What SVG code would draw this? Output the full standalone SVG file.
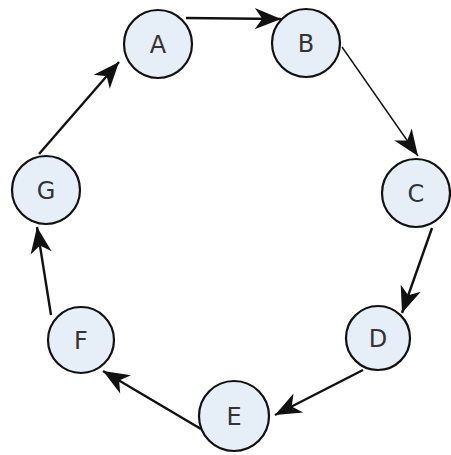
<svg xmlns="http://www.w3.org/2000/svg" width="451" height="455" viewBox="0 0 451 455">
<style>
.node circle{fill:#e6eef8;stroke:#111;stroke-width:2.2}
.node text{font-family:"DejaVu Sans","Liberation Sans",sans-serif;font-size:24px;fill:#333;text-anchor:middle}
.edge{stroke:#111;stroke-width:2.4;fill:none;marker-end:url(#ah)}
.thin{stroke-width:1.4}
</style>
<defs>
<marker id="ah" markerUnits="userSpaceOnUse" markerWidth="30" markerHeight="30" viewBox="-22 -10 24 20" refX="0" refY="0" orient="auto">
<path d="M0,0 L-21,-8.5 L-15,0 L-21,8.5 Z" fill="#111"/>
</marker>
</defs>
<rect width="451" height="455" fill="#fff"/>
<g id="connectors">
<line class="edge" x1="186" y1="18" x2="281" y2="19"/>
<line class="edge thin" x1="342" y1="47" x2="418" y2="156"/>
<line class="edge" x1="432" y1="228" x2="402" y2="313"/>
<line class="edge" x1="363" y1="370" x2="275" y2="415"/>
<line class="edge" x1="201" y1="429" x2="103" y2="371"/>
<line class="edge" x1="51" y1="315" x2="37" y2="227"/>
<line class="edge" x1="39" y1="154" x2="119" y2="62"/>
</g>
<g id="A" class="node"><circle cx="158" cy="44" r="34"/><text x="158" y="53">A</text></g>
<g id="B" class="node"><circle cx="306" cy="43" r="34"/><text x="306" y="52">B</text></g>
<g id="C" class="node"><circle cx="416" cy="193" r="34"/><text x="416" y="202">C</text></g>
<g id="D" class="node"><circle cx="378" cy="338" r="32"/><text x="378" y="347">D</text></g>
<g id="E" class="node"><circle cx="234" cy="416" r="35"/><text x="234" y="425">E</text></g>
<g id="F" class="node"><circle cx="81" cy="340" r="33"/><text x="81" y="349">F</text></g>
<g id="G" class="node"><circle cx="46" cy="190" r="34"/><text x="46" y="199">G</text></g>
</svg>
